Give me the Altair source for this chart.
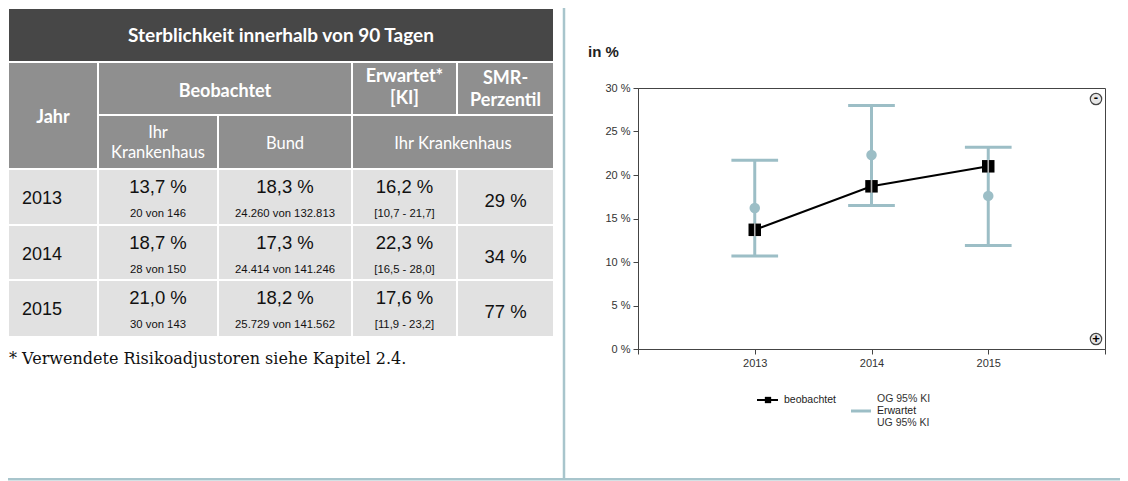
import altair as alt
import pandas as pd

# ---------------- data ----------------
years = [2013, 2014, 2015]
obs_pct = [13.7, 18.7, 21.0]
obs_counts = ["20 von 146", "28 von 150", "30 von 143"]
bund_pct = [18.3, 17.3, 18.2]
bund_counts = ["24.260 von 132.813", "24.414 von 141.246", "25.729 von 141.562"]
exp_pct = [16.2, 22.3, 17.6]
ci_lo = [10.7, 16.5, 11.9]
ci_hi = [21.7, 28.0, 23.2]
smr_perc = [29, 34, 77]

table_title = "Sterblichkeit innerhalb von 90 Tagen"
footnote = "* Verwendete Risikoadjustoren siehe Kapitel 2.4."

def de(v):
    return f"{v:.1f}".replace(".", ",")

# ---------------- style / layout ----------------
TEAL = "#9cbec6"
SEP = "#a8c5cc"
TITLE_BG = "#474747"
HEAD_BG = "#8f8f8f"
CELL_BG = "#e1e1e1"
HEAD_FONT = "Lato"
CELL_FONT = "Liberation Sans"

OX, OY = 638, 88          # page position of the plot area
PW, PH = 467, 261         # plot area size

cols = [(9, 97), (99, 217), (219, 351), (353, 456), (458, 553)]
rows = [(170, 224), (226, 279), (281, 336)]
H1 = (63, 114)
H2 = (116, 168)

rects = []
def add_rect(x0, x1, y0, y1, fill):
    rects.append(dict(x=x0 - OX, x2=x1 - OX, y=y0 - OY, y2=y1 - OY, fill=fill))

add_rect(9, 553, 9, 61, TITLE_BG)
add_rect(cols[0][0], cols[0][1], H1[0], H2[1], HEAD_BG)
add_rect(cols[1][0], cols[2][1], H1[0], H1[1], HEAD_BG)
add_rect(cols[3][0], cols[3][1], H1[0], H1[1], HEAD_BG)
add_rect(cols[4][0], cols[4][1], H1[0], H1[1], HEAD_BG)
add_rect(cols[1][0], cols[1][1], H2[0], H2[1], HEAD_BG)
add_rect(cols[2][0], cols[2][1], H2[0], H2[1], HEAD_BG)
add_rect(cols[3][0], cols[4][1], H2[0], H2[1], HEAD_BG)
for r in rows:
    for c in cols:
        add_rect(c[0], c[1], r[0], r[1], CELL_BG)
rect_df = pd.DataFrame(rects)

def cx(c):
    return (c[0] + c[1]) / 2

texts = {k: [] for k in ["title", "hbold", "hreg", "year", "big", "small", "smr", "foot"]}
def T(group, x, y, s):
    texts[group].append(dict(x=x - OX, y=y - OY, t=s))

T("title", 281, 36, table_title)
T("hbold", cx(cols[0]), 118, "Jahr")
T("hbold", (cols[1][0] + cols[2][1]) / 2, 92, "Beobachtet")
T("hbold", cx(cols[3]), 77, "Erwartet*")
T("hbold", cx(cols[3]), 99, "[KI]")
T("hbold", cx(cols[4]), 79, "SMR-")
T("hbold", cx(cols[4]), 101, "Perzentil")
T("hreg", cx(cols[1]), 133, "Ihr")
T("hreg", cx(cols[1]), 153, "Krankenhaus")
T("hreg", cx(cols[2]), 144, "Bund")
T("hreg", (cols[3][0] + cols[4][1]) / 2, 144, "Ihr Krankenhaus")
for i, r in enumerate(rows):
    T("year", 22, r[0] + 29, str(years[i]))
    T("big", cx(cols[1]), r[0] + 17, de(obs_pct[i]) + " %")
    T("big", cx(cols[2]), r[0] + 17, de(bund_pct[i]) + " %")
    T("big", cx(cols[3]), r[0] + 17, de(exp_pct[i]) + " %")
    T("small", cx(cols[1]), r[0] + 44, obs_counts[i])
    T("small", cx(cols[2]), r[0] + 44, bund_counts[i])
    T("small", cx(cols[3]), r[0] + 44, f"[{de(ci_lo[i])} - {de(ci_hi[i])}]")
    T("smr", cx(cols[4]), r[0] + 31, f"{smr_perc[i]} %")
T("foot", 9, 359, footnote)

def text_layer(group, font, size, weight="normal", color="black", align="center"):
    df = pd.DataFrame(texts[group])
    return alt.Chart(df).mark_text(
        font=font, fontSize=size, fontWeight=weight, color=color,
        align=align, baseline="middle"
    ).encode(
        x=alt.X("x:Q", scale=None, axis=None),
        y=alt.Y("y:Q", scale=None, axis=None),
        text="t:N",
    )

table_rects = alt.Chart(rect_df).mark_rect().encode(
    x=alt.X("x:Q", scale=None, axis=None), x2="x2:Q",
    y=alt.Y("y:Q", scale=None, axis=None), y2="y2:Q",
    color=alt.Color("fill:N", scale=None, legend=None),
)

table_layers = [
    table_rects,
    text_layer("title", HEAD_FONT, 19, "bold", "white"),
    text_layer("hbold", HEAD_FONT, 18, "bold", "white"),
    text_layer("hreg", HEAD_FONT, 16.5, "normal", "white"),
    text_layer("year", CELL_FONT, 18, "normal", "#111", "left"),
    text_layer("big", CELL_FONT, 18.5, "normal", "#111"),
    text_layer("small", CELL_FONT, 11.3, "normal", "#111"),
    text_layer("smr", CELL_FONT, 18.5, "normal", "#111"),
    text_layer("foot", "DejaVu Serif", 16, "normal", "#111", "left"),
]

one = pd.DataFrame({"k": [0]})
separators = [
    alt.Chart(one).mark_rule(color=SEP, strokeWidth=2.5).encode(
        x=alt.value(564 - OX), y=alt.value(8 - OY), y2=alt.value(479 - OY)),
    alt.Chart(one).mark_rule(color=SEP, strokeWidth=2.5).encode(
        x=alt.value(8 - OX), x2=alt.value(1120 - OX), y=alt.value(479.2 - OY)),
]

# ---------------- chart ----------------
df = pd.DataFrame({"year": years, "obs": obs_pct, "exp": exp_pct, "lo": ci_lo, "hi": ci_hi})

xs = alt.X("year:Q", scale=alt.Scale(domain=[2012, 2016], nice=False),
           axis=alt.Axis(values=[2012, 2013, 2014, 2015, 2016], format="d", title=None,
                         labelExpr="datum.value == 2012 || datum.value == 2016 ? '' : datum.label"))
yax = alt.Axis(values=[0, 5, 10, 15, 20, 25, 30], title=None, labelExpr="datum.value + ' %'")
ysc = alt.Scale(domain=[0, 30], nice=False)

base = alt.Chart(df)
err = base.mark_rule(color=TEAL, strokeWidth=3).encode(
    x=xs, y=alt.Y("lo:Q", scale=ysc, axis=yax), y2="hi:Q")
caps = base.transform_fold(["lo", "hi"], as_=["b", "v"]).transform_calculate(
    xl="datum.year - 0.2", xr="datum.year + 0.2"
).mark_rule(color=TEAL, strokeWidth=3).encode(
    x=alt.X("xl:Q"), x2="xr:Q", y=alt.Y("v:Q"))
exp_pts = base.mark_circle(color=TEAL, size=110, opacity=1).encode(x="year:Q", y="exp:Q")
obs_line = base.mark_line(color="black", strokeWidth=2).encode(x="year:Q", y="obs:Q")
obs_sq = base.mark_square(color="black", size=156, opacity=1).encode(x="year:Q", y="obs:Q")
obs_gap = base.mark_tick(orient="vertical", color="white", thickness=1.6, size=13).encode(
    x="year:Q", y="obs:Q")

unit_label = alt.Chart(one).mark_text(
    text="in %", font=CELL_FONT, fontSize=15, fontWeight="bold", align="left",
    baseline="middle", color="#222").encode(x=alt.value(588 - OX), y=alt.value(52 - OY))

buttons = [
    alt.Chart(one).mark_point(shape="circle", filled=True, fill="#e6e6e6", stroke="#444",
                              strokeWidth=1.2, size=130, opacity=1).encode(
        x=alt.value(PW - 9), y=alt.value(11)),
    alt.Chart(one).mark_text(text="-", font=CELL_FONT, fontSize=13, fontWeight="bold",
                             baseline="middle").encode(x=alt.value(PW - 9), y=alt.value(10)),
    alt.Chart(one).mark_point(shape="circle", filled=True, fill="#e6e6e6", stroke="#444",
                              strokeWidth=1.2, size=130, opacity=1).encode(
        x=alt.value(PW - 9), y=alt.value(PH - 10)),
    alt.Chart(one).mark_text(text="+", font=CELL_FONT, fontSize=13, fontWeight="bold",
                             baseline="middle").encode(x=alt.value(PW - 9), y=alt.value(PH - 10)),
]

# legend
LF = 10.5
legend = [
    alt.Chart(one).mark_rule(color="black", strokeWidth=2).encode(
        x=alt.value(757 - OX), x2=alt.value(778 - OX), y=alt.value(400 - OY)),
    alt.Chart(one).mark_square(color="black", size=40, opacity=1).encode(
        x=alt.value(768 - OX), y=alt.value(400 - OY)),
    alt.Chart(one).mark_text(text="beobachtet", font=CELL_FONT, fontSize=LF, align="left",
                             baseline="middle", color="#222").encode(
        x=alt.value(784 - OX), y=alt.value(400 - OY)),
    alt.Chart(one).mark_rule(color=TEAL, strokeWidth=3).encode(
        x=alt.value(851 - OX), x2=alt.value(871 - OX), y=alt.value(411 - OY)),
    alt.Chart(one).mark_text(text="OG 95% KI", font=CELL_FONT, fontSize=LF, align="left",
                             baseline="middle", color="#333").encode(
        x=alt.value(877 - OX), y=alt.value(399 - OY)),
    alt.Chart(one).mark_text(text="Erwartet", font=CELL_FONT, fontSize=LF, align="left",
                             baseline="middle", color="#222").encode(
        x=alt.value(877 - OX), y=alt.value(411 - OY)),
    alt.Chart(one).mark_text(text="UG 95% KI", font=CELL_FONT, fontSize=LF, align="left",
                             baseline="middle", color="#333").encode(
        x=alt.value(877 - OX), y=alt.value(423 - OY)),
]

chart = alt.layer(
    err, caps, exp_pts, obs_line, obs_sq, obs_gap,
    *table_layers, *separators, unit_label, *buttons, *legend
).properties(
    width=PW, height=PH,
    autosize=alt.AutoSizeParams(type="none"),
    padding={"left": OX - 8, "top": OY - 8, "right": 1120 - (OX + PW), "bottom": 481 - (OY + PH)},
).configure_view(
    stroke="#444", strokeWidth=1
).configure_axis(
    grid=False, domainColor="#444", tickColor="#444", tickSize=5,
    labelColor="#333", labelFont=CELL_FONT, labelFontSize=11, labelPadding=3,
)

chart.save("out.html", embed_options={"renderer": "svg", "actions": False})
